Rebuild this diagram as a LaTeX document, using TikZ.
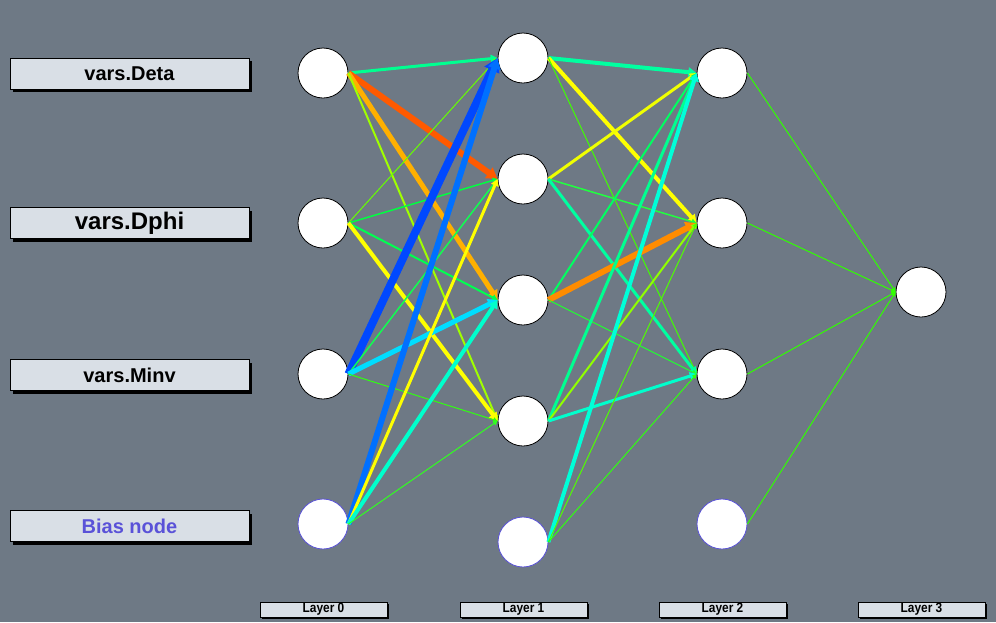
\documentclass[tikz,border=0pt]{standalone}
\usepackage{fontspec}
\setmainfont{Liberation Sans}
\newfontfamily\strettofont[FakeStretch=0.88]{Liberation Sans}
\usetikzlibrary{arrows.meta,shadows}
\definecolor{sfondo}{RGB}{110,121,133}
\definecolor{scatola}{RGB}{217,223,230}
\definecolor{colbias}{RGB}{90,82,216}

\begin{document}
\begin{tikzpicture}[x=1pt,y=-1pt,
    neurone/.style={circle, draw=black, fill=white, minimum size=50pt, inner sep=0pt, line width=0.8pt},
    neuronebias/.style={neurone, draw=colbias},
    etichetta/.style={draw=black, fill=scatola, minimum width=239pt, minimum height=31pt, inner sep=0pt,
        font=\bfseries\fontsize{20}{24}\selectfont,
        drop shadow={shadow xshift=3pt, shadow yshift=-3pt, fill=black, opacity=1}},
    strato/.style={draw=black, fill=scatola, minimum width=127pt, minimum height=15pt, inner sep=0pt,
        font=\strettofont\bfseries\fontsize{13.5}{14}\selectfont,
        drop shadow={shadow xshift=2pt, shadow yshift=-2pt, fill=black, opacity=1}},
    peso/.style={-{Triangle[length=3pt 1.3, width=3pt 1.6]}}
]
    %sfondo
    \useasboundingbox (0,0) rectangle (996,622);
    \fill[sfondo] (0,0) rectangle (996,622);

    %etichette ingressi
    \node[etichetta] (lDeta) at (129.5,73.5) {vars.Deta};
    \node[etichetta, font=\bfseries\fontsize{24}{28}\selectfont] (lDphi) at (129.5,223) {vars.Dphi};
    \node[etichetta] (lMinv) at (129.5,375) {vars.Minv};
    \node[etichetta, text=colbias] (lBias) at (129.5,526) {Bias node};

    %etichette strati
    \node[strato] (s0) at (323.5,609.5) {Layer 0};
    \node[strato] (s1) at (523.5,609.5) {Layer 1};
    \node[strato] (s2) at (722.5,609.5) {Layer 2};
    \node[strato] (s3) at (921.5,609.5) {Layer 3};

    %neuroni
    \node[neurone] (a1) at (323,73) {};
    \node[neurone] (a2) at (323,223) {};
    \node[neurone] (a3) at (323,374) {};
    \node[neuronebias] (a4) at (323,524) {};
    \node[neurone] (b1) at (523,58) {};
    \node[neurone] (b2) at (523,179) {};
    \node[neurone] (b3) at (523,300) {};
    \node[neurone] (b4) at (523,421) {};
    \node[neuronebias] (b5) at (523,542) {};
    \node[neurone] (c1) at (722,73) {};
    \node[neurone] (c2) at (722,223) {};
    \node[neurone] (c3) at (722,374) {};
    \node[neuronebias] (c4) at (722,524) {};
    \node[neurone] (d1) at (921,292) {};

    %pesi
    \foreach \s/\t/\c/\w in {
        a1/b1/00FF90/3, a1/b2/FF5A00/6, a1/b3/FFB000/5, a1/b4/A0FF00/2,
        a2/b1/66FF00/1, a2/b2/00FF40/1.5, a2/b3/00FF50/2, a2/b4/FFFF00/4,
        a3/b1/0048FF/8, a3/b2/10FF50/1.5, a3/b3/00DDFF/5, a3/b4/30FF10/1,
        a4/b1/0070FF/6, a4/b2/FFFF00/3, a4/b3/00FFCC/4, a4/b4/30FF20/1,
        b1/c1/00FFA0/4, b1/c2/FFFF00/4, b1/c3/40FF00/1,
        b2/c1/F0FF00/3, b2/c2/20FF40/1.5, b2/c3/00FFA0/3,
        b3/c1/00FF60/2, b3/c2/FF8C00/6, b3/c3/20FF30/1,
        b4/c1/00FF90/3, b4/c2/90FF00/2, b4/c3/00FFCC/3,
        b5/c1/00FFD8/4, b5/c2/50FF00/1, b5/c3/30FF10/1,
        c1/d1/30FF00/1, c2/d1/30FF00/1, c3/d1/30FF00/1, c4/d1/30FF00/1} {
        \definecolor{colpeso}{HTML}{\c}
        \draw[peso, color=colpeso, line width=\w pt] (\s.east) -- (\t.west);
    }
\end{tikzpicture}
\end{document}
